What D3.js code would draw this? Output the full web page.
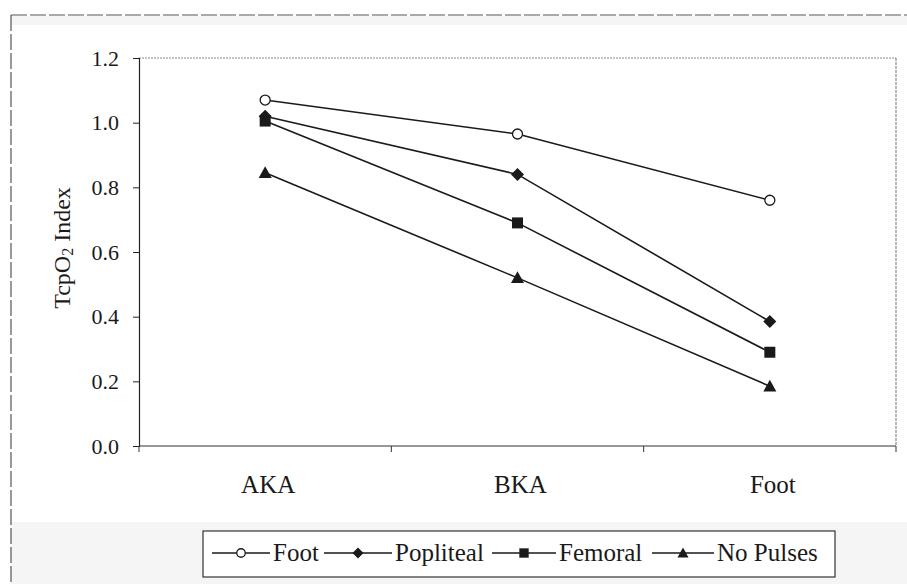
<!DOCTYPE html>
<html>
<head>
<meta charset="utf-8">
<script src="https://cdn.jsdelivr.net/npm/d3@7"></script>
<style>
  html, body { margin: 0; padding: 0; background: #fff; }
  svg { display: block; }
  text { font-family: "Liberation Serif", "Times New Roman", serif; fill: #1a1a1a; }
</style>
</head>
<body>
<svg id="chart" width="907" height="584"></svg>
<script>
// Sites where TcpO2 was measured
const sites = ["AKA", "BKA", "Foot"];

// Pulse groups and their index at each site
const seriesNames = ["Foot", "Popliteal", "Femoral", "No Pulses"];
const footValues      = [1.07, 0.965, 0.76];
const poplitealValues = [1.02, 0.84, 0.385];
const femoralValues   = [1.005, 0.69, 0.29];
const noPulsesValues  = [0.845, 0.52, 0.185];
const seriesValues = [footValues, poplitealValues, femoralValues, noPulsesValues];
const markerKinds = ["circle", "diamond", "square", "triangle"];

const yTicks = [0.0, 0.2, 0.4, 0.6, 0.8, 1.0, 1.2];

const svg = d3.select("#chart");
const W = 907, H = 584;

// faint paper tone along the frame edges
svg.append("rect").attr("x", 0).attr("y", 0).attr("width", W).attr("height", H).attr("fill", "#fff");
svg.append("rect").attr("x", 11).attr("y", 16).attr("width", W - 11).attr("height", 9).attr("fill", "#f5f5f5");
svg.append("rect").attr("x", 11).attr("y", 522).attr("width", W - 11).attr("height", H - 522).attr("fill", "#f5f5f5");

// outer frame
svg.append("line").attr("x1", 11).attr("x2", W).attr("y1", 15).attr("y2", 15)
  .attr("stroke", "#555").attr("stroke-width", 1.2).attr("stroke-dasharray", "16,3");
svg.append("line").attr("x1", 11).attr("x2", 11).attr("y1", 15).attr("y2", H)
  .attr("stroke", "#555").attr("stroke-width", 1.2).attr("stroke-dasharray", "16,3");

const plot = { left: 139, right: 896, top: 58, bottom: 446 };

const x = d3.scaleBand().domain(sites).range([plot.left, plot.right]);
const y = d3.scaleLinear().domain([0, 1.2]).range([plot.bottom, plot.top]);

// plot frame top and right
svg.append("line").attr("x1", plot.left).attr("x2", plot.right).attr("y1", plot.top).attr("y2", plot.top)
  .attr("stroke", "#888").attr("stroke-width", 1).attr("stroke-dasharray", "2,1");
svg.append("line").attr("x1", plot.right).attr("x2", plot.right).attr("y1", plot.top).attr("y2", plot.bottom)
  .attr("stroke", "#888").attr("stroke-width", 1.2).attr("stroke-dasharray", "3,1");

// y axis
const yAxis = svg.append("g")
  .attr("transform", `translate(${plot.left},0)`)
  .call(d3.axisLeft(y).tickValues(yTicks).tickFormat(d3.format(".1f")).tickSize(6).tickPadding(14));
yAxis.attr("font-family", null);
yAxis.select(".domain").attr("stroke", "#222").attr("stroke-width", 1.2);
yAxis.selectAll(".tick line").attr("stroke", "#222");
yAxis.selectAll(".tick text").attr("font-size", 22).attr("fill", "#1a1a1a")
  .style("font-family", "'Liberation Serif', 'Times New Roman', serif");

// x axis with ticks on band boundaries
const xAxisG = svg.append("g").attr("transform", `translate(0,${plot.bottom})`);
xAxisG.append("line").attr("x1", plot.left).attr("x2", plot.right).attr("stroke", "#333").attr("stroke-width", 1.2);
const boundaries = sites.map(s => x(s)).concat([x(sites[sites.length - 1]) + x.bandwidth()]);
xAxisG.selectAll("line.tk").data(boundaries).join("line").attr("class", "tk")
  .attr("x1", d => d).attr("x2", d => d).attr("y1", 0).attr("y2", 6).attr("stroke", "#333");
xAxisG.selectAll("text").data(sites).join("text")
  .attr("x", d => x(d) + x.bandwidth() / 2 + 3).attr("y", 47)
  .attr("text-anchor", "middle").attr("font-size", 25).text(d => d);

// y title
const yTitle = svg.append("text")
  .attr("transform", `translate(70,248) rotate(-90)`)
  .attr("text-anchor", "middle").attr("font-size", 24);
yTitle.append("tspan").text("TcpO");
yTitle.append("tspan").attr("font-size", 16).attr("dy", 3).text("2");
yTitle.append("tspan").attr("dy", -3).text(" Index");

// marker drawing
function drawMarker(g, kind, cx, cy, scale = 1) {
  if (kind === "circle") {
    g.append("circle").attr("cx", cx).attr("cy", cy).attr("r", 5 * scale)
      .attr("fill", "#fff").attr("stroke", "#1a1a1a").attr("stroke-width", 1.3);
  } else if (kind === "diamond") {
    const s = 6.5 * scale;
    g.append("path").attr("d", `M${cx},${cy - s}L${cx + s},${cy}L${cx},${cy + s}L${cx - s},${cy}Z`).attr("fill", "#1a1a1a");
  } else if (kind === "square") {
    const s = 5.5 * scale;
    g.append("rect").attr("x", cx - s).attr("y", cy - s).attr("width", 2 * s).attr("height", 2 * s).attr("fill", "#1a1a1a");
  } else {
    const s = 6.5 * scale;
    g.append("path").attr("d", `M${cx},${cy - s}L${cx + s},${cy + s * 0.8}L${cx - s},${cy + s * 0.8}Z`).attr("fill", "#1a1a1a");
  }
}

const line = d3.line().x((d, i) => x(sites[i]) + x.bandwidth() / 2).y(d => y(d));

seriesValues.forEach((vals, k) => {
  const g = svg.append("g");
  g.append("path").datum(vals).attr("d", line)
    .attr("fill", "none").attr("stroke", "#1a1a1a").attr("stroke-width", 1.6);
  vals.forEach((v, i) => drawMarker(g, markerKinds[k], x(sites[i]) + x.bandwidth() / 2, y(v)));
});

// legend
const legend = svg.append("g");
legend.append("rect").attr("x", 203).attr("y", 531).attr("width", 632).attr("height", 46)
  .attr("fill", "#fff").attr("stroke", "#333").attr("stroke-width", 1.2);
const legendX = [212, 324, 492, 652];
const legendLen = [58, 68, 64, 62];
const legendY = 553;
seriesNames.forEach((name, k) => {
  const lx = legendX[k];
  legend.append("line").attr("x1", lx).attr("x2", lx + legendLen[k]).attr("y1", legendY).attr("y2", legendY)
    .attr("stroke", "#1a1a1a").attr("stroke-width", 1.5);
  drawMarker(legend, markerKinds[k], lx + legendLen[k] / 2, legendY, 0.85);
  legend.append("text").attr("x", lx + legendLen[k] + 3).attr("y", legendY + 8).attr("font-size", 25).text(name);
});
</script>
</body>
</html>
